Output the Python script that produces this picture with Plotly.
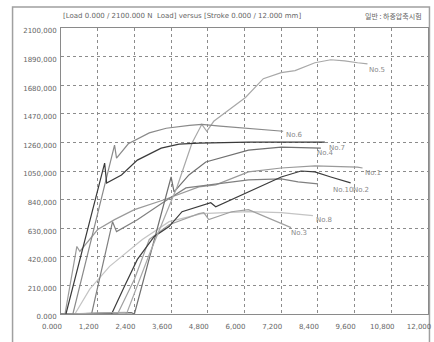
import plotly.graph_objects as go

# ---- data (stroke x, load y) ----
no1_x = [130, 519, 616, 1200, 1751, 2400, 3373, 4508, 5059, 6130, 7200, 8302, 9697, 9860]
no1_y = [0, 496, 459, 620, 693, 766, 839, 933, 948, 1043, 1072, 1087, 1079, 1072]

no2_x = [0, 1600, 1654, 2076, 2497, 3049, 3535, 3957, 4897, 5059, 6130, 7200, 7849, 8302, 8821, 9470]
no2_y = [0, 5, 0, 204, 401, 569, 642, 751, 817, 788, 897, 1006, 1050, 1043, 1006, 963]

no3_x = [0, 1800, 1849, 2400, 2886, 3535, 4508, 4670, 4832, 5578, 6130, 6778, 7524]
no3_y = [0, 8, 0, 255, 547, 656, 737, 744, 693, 751, 766, 707, 634]

no4_x = [0, 2300, 2400, 3600, 3697, 4183, 4735, 6130, 7200, 8497]
no4_y = [0, 10, 0, 1006, 897, 1021, 1116, 1203, 1225, 1218]

no5_x = [0, 2100, 2140, 2886, 3794, 4281, 4605, 4767, 4994, 5481, 6032, 6616, 7200, 7654, 8302, 8821, 9275, 9697, 10021]
no5_y = [0, 12, 0, 437, 933, 1254, 1393, 1342, 1415, 1495, 1590, 1728, 1772, 1787, 1845, 1867, 1859, 1845, 1837]

no6_x = [389, 1751, 1816, 2200, 2886, 3440, 4200, 4605, 5200, 6130, 7265]
no6_y = [0, 1240, 1145, 1250, 1330, 1364, 1385, 1393, 1380, 1364, 1342]

no7_x = [162, 1427, 1492, 1978, 2497, 3276, 3860, 4508, 6130, 7751, 8627]
no7_y = [0, 1108, 962, 1021, 1130, 1218, 1247, 1254, 1262, 1262, 1262]

no8_x = [454, 940, 1589, 2659, 3535, 4605, 6130, 7200, 8237]
no8_y = [0, 182, 350, 547, 678, 737, 751, 744, 722]

no10_x = [1000, 1686, 1816, 2497, 3373, 4086, 6130, 7200, 7751, 8400]
no10_y = [0, 678, 605, 692, 824, 926, 985, 992, 970, 955]

x_ticks = [0, 1200, 2400, 3600, 4800, 6000, 7200, 8400, 9600, 10800, 12000]
x_labels = ["0.000", "1,200", "2,400", "3,600", "4,800", "6,000", "7,200", "8,400", "9,600", "10,800", "12,000"]
y_ticks = [0, 210, 420, 630, 840, 1050, 1260, 1470, 1680, 1890, 2100]
y_labels = ["0.000", "210,000", "420,000", "630,000", "840,000", "1050,000", "1260,000", "1470,000", "1680,000", "1890,000", "2100,000"]

series = [
    ("No.8", no8_x, no8_y, "#c4c4c4"),
    ("No.3", no3_x, no3_y, "#a0a0a0"),
    ("No.1", no1_x, no1_y, "#9a9a9a"),
    ("No.10", no10_x, no10_y, "#808080"),
    ("No.4", no4_x, no4_y, "#707070"),
    ("No.2", no2_x, no2_y, "#3c3c3c"),
    ("No.5", no5_x, no5_y, "#a8a8a8"),
    ("No.6", no6_x, no6_y, "#8a8a8a"),
    ("No.7", no7_x, no7_y, "#3a3a3a"),
]

# label anchor points (data coords)
label_pos = {
    "No.5": (10345, 1790, "center"),
    "No.6": (7621, 1314, "center"),
    "No.7": (9016, 1219, "center"),
    "No.4": (8659, 1182, "center"),
    "No.1": (10216, 1035, "center"),
    "No.10": (8821, 910, "left"),
    "No.2": (9470, 910, "left"),
    "No.8": (8594, 690, "center"),
    "No.3": (7783, 595, "center"),
}

fig = go.Figure()
for name, xs, ys, col in series:
    fig.add_trace(go.Scatter(x=xs, y=ys, mode="lines", name=name,
                             line=dict(color=col, width=1.2), hoverinfo="skip"))

font_main = "DejaVu Sans, Liberation Sans, sans-serif"
for name, (lx, ly, anc) in label_pos.items():
    fig.add_annotation(x=lx, y=ly, text=name, showarrow=False, xanchor=anc,
                       font=dict(size=7, color="#8a8a8a", family=font_main))

fig.add_annotation(xref="paper", yref="paper", x=0, y=1.042, xanchor="left", yanchor="middle",
                   text="[Load 0.000 / 2100.000 N  Load] versus [Stroke 0.000 / 12.000 mm]",
                   showarrow=False, font=dict(size=7, color="#666666", family=font_main))
fig.add_annotation(xref="paper", yref="paper", x=0.99, y=1.042, xanchor="right", yanchor="middle",
                   text="일반 : 하중압축시험", showarrow=False,
                   font=dict(size=7, color="#666666", family="Noto Sans CJK KR"))

# outer frame
fig.add_shape(type="rect", xref="paper", yref="paper", x0=-0.132, x1=1.004, y0=-0.2, y1=1.073,
              line=dict(color="#a0a0a0", width=1.5), layer="below")

fig.update_layout(
    width=434, height=342,
    margin=dict(l=61, r=3, t=28, b=28),
    paper_bgcolor="white", plot_bgcolor="white",
    showlegend=False,
)
fig.update_xaxes(range=[0, 12000], tickmode="array", tickvals=x_ticks, ticktext=x_labels,
                 showgrid=True, gridcolor="#8c8c8c", griddash="dot", gridwidth=1,
                 showline=True, linecolor="#8a8a8a", linewidth=1, mirror=True,
                 ticks="", ticklabelshift=-9, ticklabelstandoff=6, zeroline=False,
                 ticklabeloverflow="allow",
                 tickfont=dict(size=7, color="#666666", family=font_main))
fig.update_yaxes(range=[0, 2100], tickmode="array", tickvals=y_ticks, ticktext=y_labels,
                 showgrid=True, gridcolor="#8c8c8c", griddash="dot", gridwidth=1,
                 showline=True, linecolor="#8a8a8a", linewidth=1, mirror=True,
                 ticks="", ticklabelshift=3, ticklabelstandoff=2, zeroline=False,
                 ticklabeloverflow="allow",
                 tickfont=dict(size=7, color="#666666", family=font_main))

fig.write_html("out.html")
